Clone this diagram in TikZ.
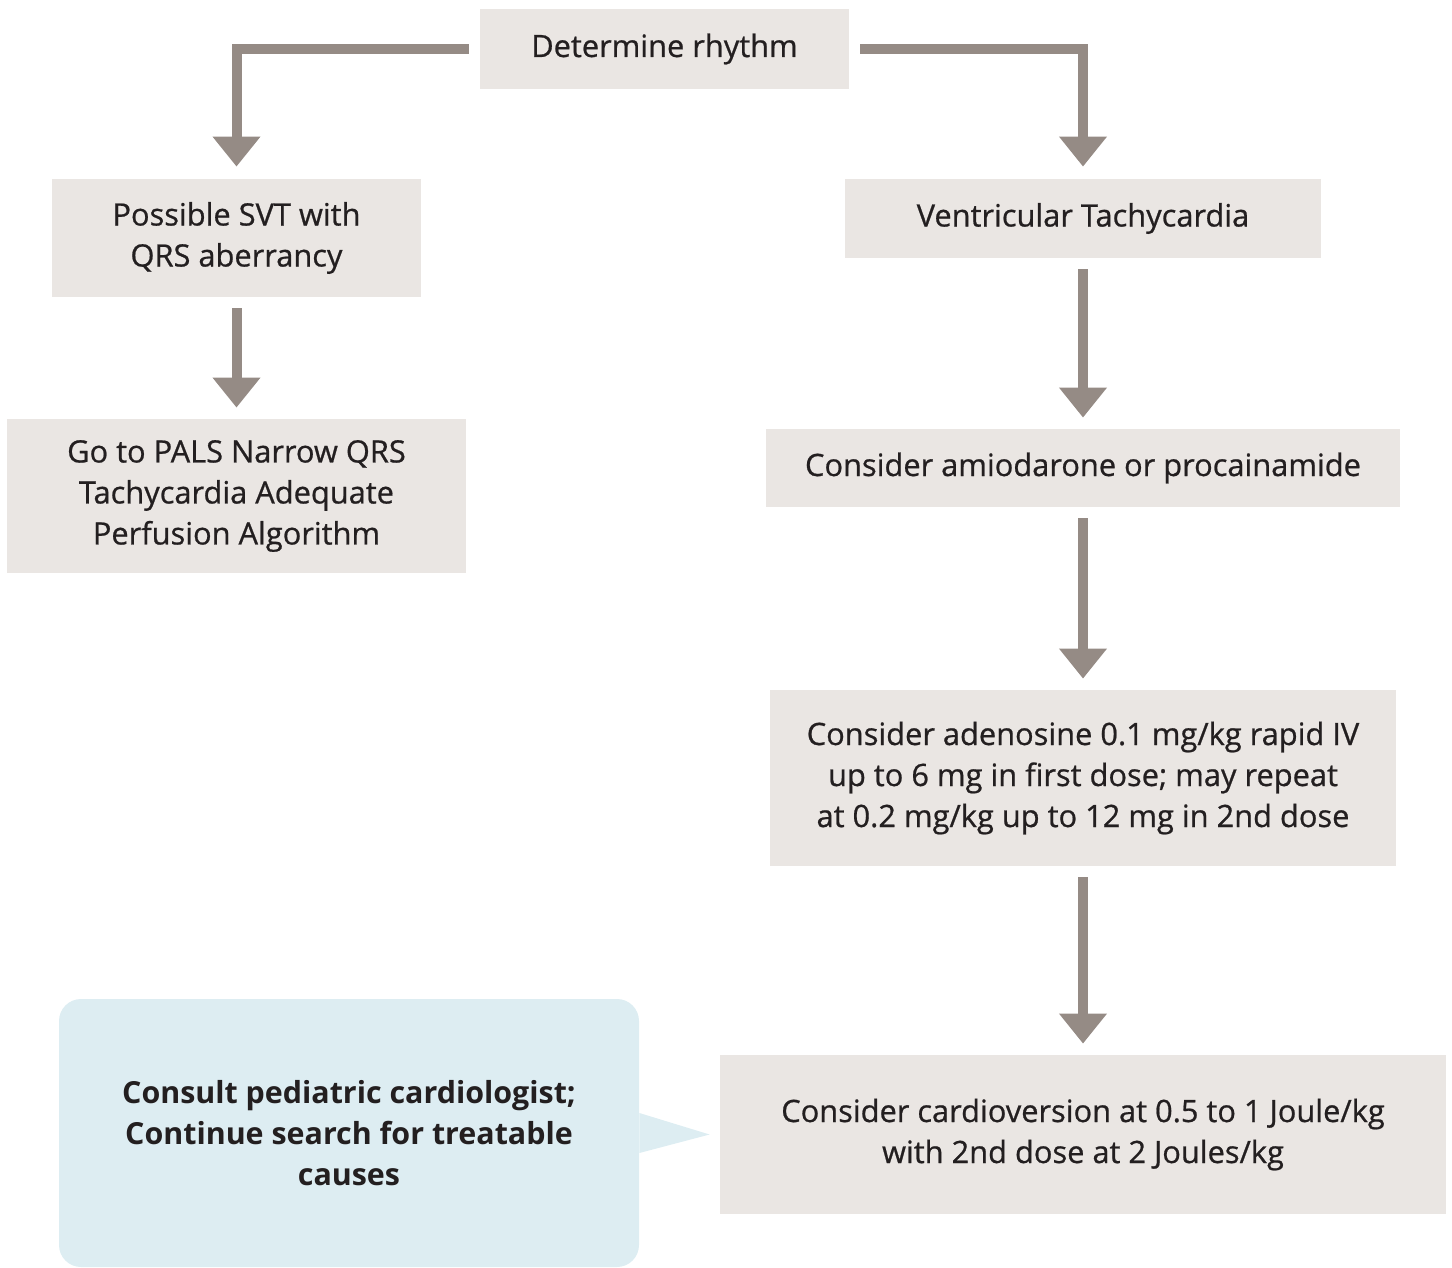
\documentclass[tikz,border=0pt]{standalone}
\usepackage{fontspec}
\setmainfont{Open Sans}
\newfontfamily\semifont[FakeBold=0.7]{Open Sans}
\usetikzlibrary{arrows.meta}
\definecolor{boxfill}{HTML}{EAE6E3}
\definecolor{arrowgray}{HTML}{958B85}
\definecolor{notefill}{HTML}{DDEDF2}
\definecolor{inktext}{HTML}{231F20}
\tikzset{
  stepbox/.style={fill=boxfill, inner sep=0pt, align=center, text=inktext,
    font=\semifont\fontsize{15.4}{20.5}\selectfont},
  notebox/.style={fill=notefill, inner sep=0pt, align=center, text=inktext,
    rounded corners=11pt, font=\bfseries\fontsize{15.2}{20.5}\selectfont},
  flow/.style={draw=arrowgray, line width=5pt,
    -{Triangle[width=23pt,length=15pt]}, shorten <=5.5pt, shorten >=5.5pt}
}
\begin{document}
\begin{tikzpicture}[x=0.5pt, y=-0.5pt]
  \useasboundingbox (0,0) rectangle (1452,1268);

  % decision and action boxes
  \node[stepbox, minimum width=184.5pt, minimum height=40pt] (det) at (664.5,49) {Determine rhythm};
  \node[stepbox, minimum width=184.5pt, minimum height=59pt] (svt) at (236.5,238) {Possible SVT with\\QRS aberrancy};
  \node[stepbox, minimum width=229.5pt, minimum height=77pt] (pals) at (236.5,496) {Go to PALS Narrow QRS\\Tachycardia Adequate\\Perfusion Algorithm};
  \node[stepbox, minimum width=238pt, minimum height=39.5pt] (vt) at (1083,218.5) {Ventricular Tachycardia};
  \node[stepbox, minimum width=317pt, minimum height=39pt] (amio) at (1083,468) {Consider amiodarone or procainamide};
  \node[stepbox, minimum width=313pt, minimum height=88pt] (aden) at (1083,778) {Consider adenosine 0.1 mg/kg rapid IV\\up to 6 mg in first dose; may repeat\\at 0.2 mg/kg up to 12 mg in 2nd dose};
  \node[stepbox, minimum width=363pt, minimum height=79.5pt] (card) at (1083,1134.5) {Consider cardioversion at 0.5 to 1 Joule/kg\\with 2nd dose at 2 Joules/kg};

  % callout note pointing at the cardioversion box
  \node[notebox, minimum width=290pt, minimum height=134pt] (cons) at (349,1133) {Consult pediatric cardiologist;\\Continue search for treatable\\causes};
  \coordinate (tip) at ([xshift=-5pt]card.west);
  \fill[notefill] ([yshift=10pt]cons.east) -- (tip) -- ([yshift=-10pt]cons.east) -- cycle;

  % connectors
  \draw[flow, shorten >=6pt] (det.west) -| (svt.north);
  \draw[flow, shorten >=6pt] (det.east) -| (vt.north);
  \draw[flow] (svt) -- (pals);
  \draw[flow] (vt) -- (amio);
  \draw[flow] (amio) -- (aden);
  \draw[flow] (aden) -- (card);
\end{tikzpicture}
\end{document}
